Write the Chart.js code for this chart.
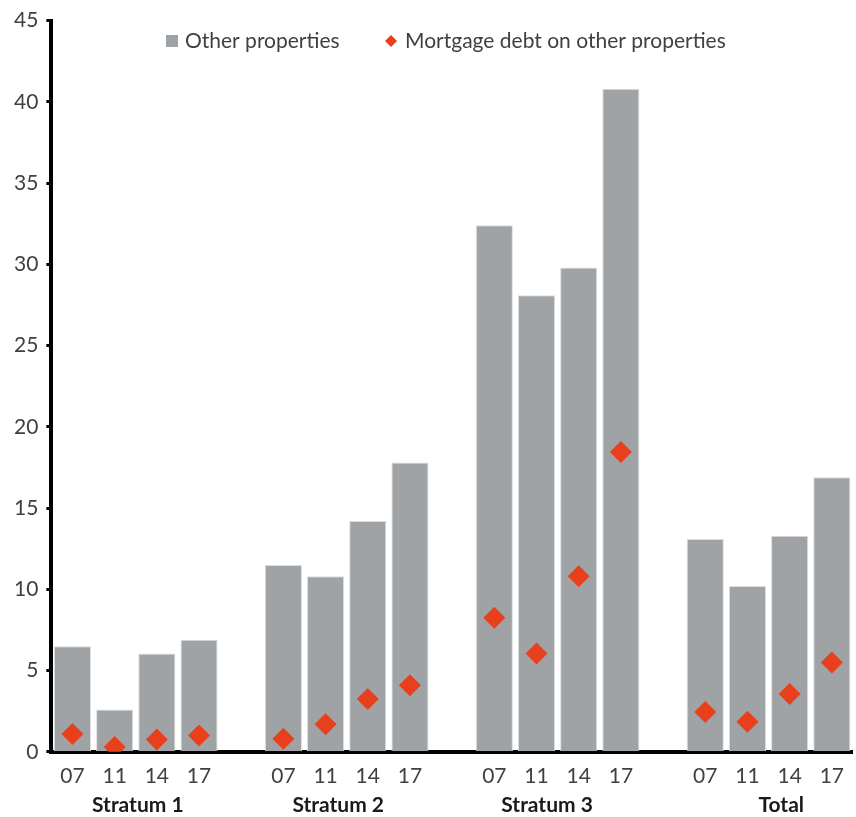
<!DOCTYPE html>
<html>
<head>
<meta charset="utf-8">
<script src="https://cdn.jsdelivr.net/npm/chart.js@4"></script>
<style>
  html, body { margin: 0; padding: 0; background: #fff; overflow: hidden; }
  #wrap { width: 856px; height: 817px; }
</style>
</head>
<body>
<div id="wrap"><canvas id="chart"></canvas></div>
<script>
// year ticks, with an empty slot between the groups
const yearLabels = ['07', '11', '14', '17', '', '07', '11', '14', '17', '', '07', '11', '14', '17', '', '07', '11', '14', '17'];
const groupNames = ['Stratum 1', 'Stratum 2', 'Stratum 3', 'Total'];

const otherProperties = [6.5, 2.6, 6.05, 6.9, null, 11.5, 10.8, 14.2, 17.8, null, 32.4, 28.1, 29.8, 40.8, null, 13.1, 10.2, 13.3, 16.9];
const mortgageDebt = [1.1, 0.3, 0.75, 1.0, null, 0.8, 1.7, 3.25, 4.1, null, 8.25, 6.05, 10.8, 18.45, null, 2.45, 1.85, 3.55, 5.5];

const yTicks = [0, 5, 10, 15, 20, 25, 30, 35, 40, 45];

const textColor = '#404040';
const fontFamily = 'Lato, "Open Sans", sans-serif';

// group names under the year labels
const groupLabels = {
  id: 'groupLabels',
  afterDraw(chart) {
    const x = chart.scales.x;
    const ctx = chart.ctx;
    const centers = [1.55, 6.3, 11.25, 16.8];
    ctx.save();
    ctx.font = 'bold 21px ' + fontFamily;
    ctx.fillStyle = '#1a1a1a';
    ctx.textAlign = 'center';
    ctx.textBaseline = 'middle';
    groupNames.forEach((name, i) => {
      ctx.fillText(name, x.getPixelForValue(centers[i]), 805);
    });
    ctx.restore();
  }
};

// legend row drawn over the top of the plot
const topLegend = {
  id: 'topLegend',
  afterDraw(chart) {
    const ctx = chart.ctx;
    const bars = chart.data.datasets[1];
    const dots = chart.data.datasets[0];
    const y = 41;
    ctx.save();
    ctx.font = '21px ' + fontFamily;
    ctx.textBaseline = 'middle';
    ctx.fillStyle = bars.backgroundColor;
    ctx.fillRect(166, y - 6, 12, 12);
    ctx.fillStyle = textColor;
    ctx.fillText(bars.label, 185, y);
    ctx.fillStyle = dots.backgroundColor;
    ctx.beginPath();
    ctx.moveTo(391, y - 6);
    ctx.lineTo(397, y);
    ctx.lineTo(391, y + 6);
    ctx.lineTo(385, y);
    ctx.closePath();
    ctx.fill();
    ctx.fillStyle = textColor;
    ctx.fillText(dots.label, 405, y);
    ctx.restore();
  }
};

new Chart(document.getElementById('chart'), {
  data: {
    labels: yearLabels,
    datasets: [
      {
        type: 'line',
        label: 'Mortgage debt on other properties',
        data: mortgageDebt,
        showLine: false,
        pointStyle: 'rectRot',
        pointRadius: 11,
        pointHoverRadius: 11,
        backgroundColor: '#e8401c',
        borderColor: '#e8401c',
        borderWidth: 0,
        order: 0
      },
      {
        type: 'bar',
        label: 'Other properties',
        data: otherProperties,
        backgroundColor: '#a0a3a6',
        borderColor: '#dcdddf',
        borderWidth: 1,
        barPercentage: 0.88,
        categoryPercentage: 1,
        order: 1
      }
    ]
  },
  options: {
    responsive: true,
    maintainAspectRatio: false,
    animation: false,
    layout: { autoPadding: false, padding: { top: 6, left: 6, right: 0, bottom: 16 } },
    plugins: {
      tooltip: { enabled: false },
      legend: { display: false }
    },
    scales: {
      x: {
        offset: true,
        grid: { display: false, drawTicks: false },
        border: { display: true, color: '#000', width: 4 },
        ticks: {
          color: textColor,
          padding: 12,
          autoSkip: false,
          maxRotation: 0,
          font: { family: fontFamily, size: 21 }
        }
      },
      y: {
        min: 0,
        max: 45,
        afterBuildTicks: axis => { axis.ticks = yTicks.map(v => ({ value: v })); },
        grid: { drawOnChartArea: false, drawTicks: true, tickLength: 5, tickWidth: 3, color: '#000' },
        border: { display: true, color: '#000', width: 4 },
        ticks: {
          color: textColor,
          padding: 8,
          font: { family: fontFamily, size: 21 }
        }
      }
    }
  },
  plugins: [groupLabels, topLegend]
});
</script>
</body>
</html>
